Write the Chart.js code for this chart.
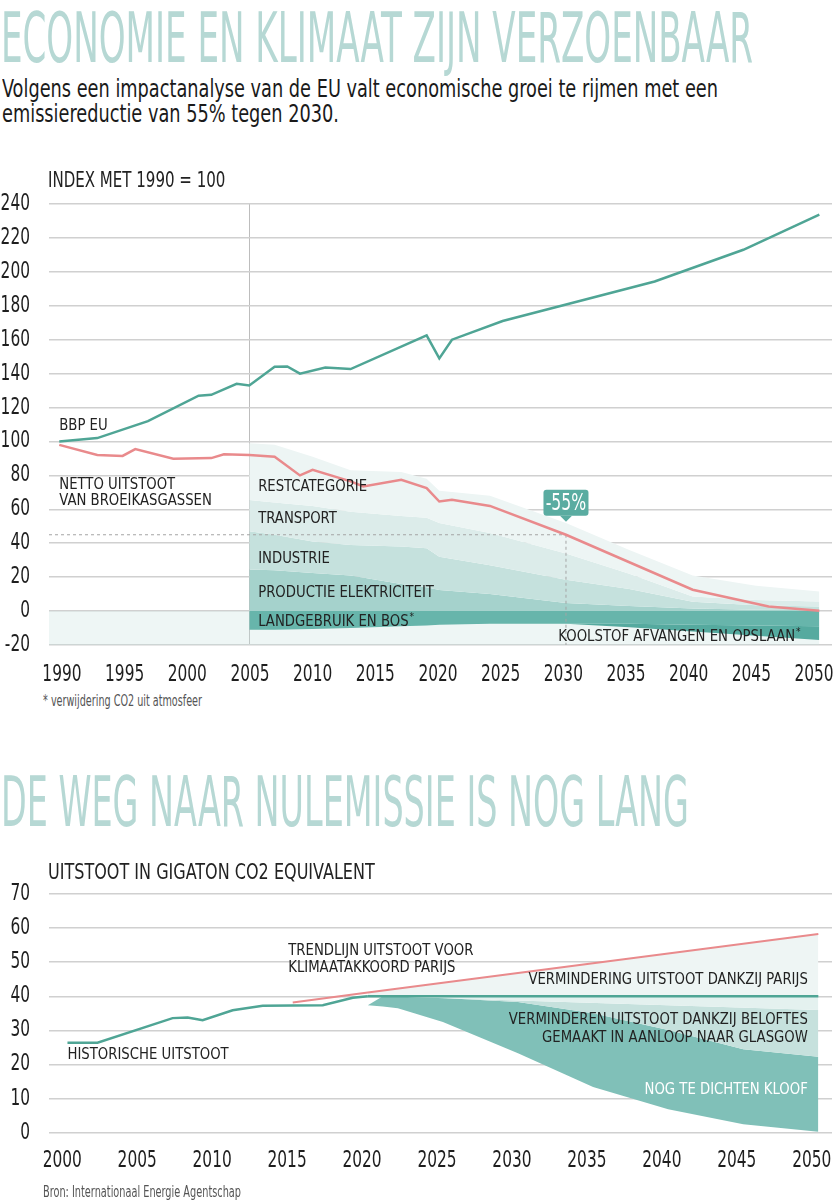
<!DOCTYPE html>
<html><head><meta charset="utf-8">
<script src="https://cdn.jsdelivr.net/npm/chart.js@4.4.1/dist/chart.umd.min.js"></script>
<style>
html,body{margin:0;padding:0;background:#fff;width:834px;height:1200px;overflow:hidden;position:relative}
.t{position:absolute;left:0;white-space:nowrap;transform-origin:0 0;font-family:"Liberation Sans Narrow","DejaVu Sans Condensed",sans-serif;line-height:1}
.title{color:#b6d8d4;font-size:70px}
.sub{color:#1a1a1a;font-size:24px}
.note{color:#555;font-size:15px}
.cv{position:absolute;left:0}
</style></head>
<body>
<div class="t title" id="t1" data-w="752" style="top:3px;left:1px">ECONOMIE EN KLIMAAT ZIJN VERZOENBAAR</div>
<div class="t sub" id="s1" data-w="716" style="top:77px;left:2px">Volgens een impactanalyse van de EU valt economische groei te rijmen met een</div>
<div class="t sub" id="s2" data-ref="s1" style="top:102px;left:2px">emissiereductie van 55% tegen 2030.</div>
<canvas class="cv" id="c1" width="834" height="530" style="top:160px;width:834px;height:530px"></canvas>
<div class="t note" id="n1" data-w="159" style="top:694px;left:43px">* verwijdering CO2 uit atmosfeer</div>
<div class="t title" id="t2" data-w="688" style="top:767px;left:1px">DE WEG NAAR NULEMISSIE IS NOG LANG</div>
<canvas class="cv" id="c2" width="834" height="340" style="top:850px;width:834px;height:340px"></canvas>
<div class="t note" id="n2" data-w="198" style="top:1185px;left:43px">Bron: Internationaal Energie Agentschap</div>
<script>
const FONT = '"Liberation Sans Narrow","DejaVu Sans Condensed",sans-serif';

// ---------- Chart 1 data ----------
const xTicks1 = [1990,1995,2000,2005,2010,2015,2020,2025,2030,2035,2040,2045,2050];
const yTicks1 = [-20,0,20,40,60,80,100,120,140,160,180,200,220,240];
const gdpYears = [1990,1993,1997,2001,2002,2004,2005,2007,2008,2009,2011,2013,2019,2020,2021,2025,2037,2044,2050];
const gdpIndex = [100,102,112,127,127.5,134,133,144,144.2,140,143.6,142.7,162.5,149,160,171,194.3,213,233.7];
const netYears = [1990,1993,1995,1996,1999,2002,2003,2005,2007,2009,2010,2013,2014,2017,2019,2020,2021,2024,2030,2040,2046,2050];
const netIndex = [98,92,91.5,95.5,89.8,90.2,92.5,92,91,80,83.3,76.5,73.5,77.4,72.5,64.6,65.6,62,45,12.6,2.7,0.2];
const stackYears = [2005,2007,2010,2013,2017,2019,2020,2024,2030,2035,2040,2045,2050];
const power     = [24.5,24,22.5,21,16,14,12.5,10,4.7,3,1.5,0.8,0.5];
const industry  = [22.5,21,18.5,18,22,23,19.5,17,13.8,10,4,2.7,2.2];
const transport = [18.5,19,21,19.5,18,18,20,19,15.5,9,3.1,3,3];
const rest      = [33.5,34,29,24.5,26,23,19,22,18,14,12.4,8.5,5.9];
const lulucf    = [-11,-11,-10.5,-10,-9,-8.5,-8,-7.5,-7.5,-7.5,-8,-8.5,-9];
const ccs       = [0,0,0,0,0,0,0,0,0,-2,-4,-6,-8];
const targetYear = 2030, targetValue = 45, targetLabel = '-55%';
const splitYear = 2005;

// ---------- Chart 2 data ----------
const xTicks2 = [2000,2005,2010,2015,2020,2025,2030,2035,2040,2045,2050];
const yTicks2 = [0,10,20,30,40,50,60,70];
const histYears = [2000,2002,2007,2008,2009,2011,2013,2017,2019,2020];
const histValues = [26.4,26.4,33.6,33.8,33,35.9,37.2,37.4,39.6,40];
const policyYears = [2020,2050];
const policyValues = [40,40];
const trendYears = [2015,2020,2050];
const trendValues = [38.2,41.1,58.3];
const announcedYears = [2021,2050];
const announcedValues = [40,36];
const gapYears = [2020,2021,2022,2025,2030,2035,2040,2045,2050];
const pledgeValues = [37.4,40,39.9,39.5,38.3,35,30.1,24.5,22.3];
const netZeroValues = [37.4,37,36.5,32.5,23.3,13.4,6.9,2.5,0.3];

// ---------- helpers ----------
const pts = (xs, ys) => xs.map((x,i)=>({x, y: ys[i]}));
function cumulate(list){
  const out=[]; let acc = list[0].map(()=>0);
  list.forEach(a=>{ acc = acc.map((v,i)=>v+a[i]); out.push(acc.slice()); });
  return out;
}
const [pTop, iTop, tTop, rTop] = cumulate([power, industry, transport, rest]);
const [lBot, cBot] = cumulate([lulucf, ccs]);

const X1_MIN = 1989.19, X1_MAX = 2051.0;
const X2_MIN = 1998.77, X2_MAX = 2050.91;

Chart.defaults.font.family = FONT;
Chart.defaults.color = '#222';

const LABEL_SX = 0.92;
const textPlugin = {
  id: 'texts',
  afterDatasetsDraw(chart, args, opts) {
    const ctx = chart.ctx, xs = chart.scales.x, ys = chart.scales.y, ca = chart.chartArea;
    if (opts.ticks) {
      const tk = opts.ticks;
      ctx.save();
      ctx.font = '23px ' + FONT; ctx.fillStyle = '#1e1e1e'; ctx.textBaseline = 'middle';
      const sx = (2 * tk.digitW) / ctx.measureText('00').width;
      ys.ticks.forEach(t => {
        ctx.save(); ctx.translate(ca.left - tk.yPad, ys.getPixelForValue(t.value)); ctx.scale(sx,1);
        ctx.textAlign = 'right'; ctx.fillText(String(t.value), 0, 0); ctx.restore();
      });
      const n = xs.ticks.length;
      xs.ticks.forEach((t, i) => {
        const shift = tk.s0 + (tk.s1 - tk.s0) * i / (n - 1);
        ctx.save(); ctx.translate(xs.getPixelForValue(t.value) + shift, ca.bottom + tk.xOff); ctx.scale(sx,1);
        ctx.textAlign = 'center'; ctx.fillText(String(t.value), 0, 0); ctx.restore();
      });
      ctx.restore();
    }
    (opts.items||[]).forEach(it => {
      ctx.save();
      ctx.font = (it.size||16) + 'px ' + FONT;
      ctx.fillStyle = it.color || '#222';
      ctx.textAlign = it.align || 'left';
      ctx.textBaseline = 'middle';
      const px = it.ax !== undefined ? ca.left + it.ax : xs.getPixelForValue(it.x);
      const py = it.ay !== undefined ? ca.top + it.ay : ys.getPixelForValue(it.y);
      ctx.translate(px, py); ctx.scale(it.sx||LABEL_SX, 1);
      ctx.fillText(it.text, 0, 0);
      if (it.sup) {
        const w = ctx.measureText(it.text).width;
        ctx.font = '11px ' + FONT; ctx.textAlign='left';
        ctx.fillText('*', w + 1, -4);
      }
      ctx.restore();
    });
    if (opts.callout) {
      const c = opts.callout;
      const x = xs.getPixelForValue(c.x), yv = ys.getPixelForValue(c.y);
      const tip = yv - 13, bh = 26, bw = 45, by = tip - 6 - bh;
      ctx.save();
      ctx.fillStyle = '#5aaca1';
      ctx.beginPath();
      if (ctx.roundRect) ctx.roundRect(x-bw/2, by, bw, bh, 3); else ctx.rect(x-bw/2, by, bw, bh);
      ctx.fill();
      ctx.beginPath(); ctx.moveTo(x-6, by+bh); ctx.lineTo(x+6, by+bh); ctx.lineTo(x, tip); ctx.closePath(); ctx.fill();
      ctx.fillStyle = '#fff'; ctx.font = '23px ' + FONT; ctx.textAlign='center'; ctx.textBaseline='middle';
      ctx.translate(x, by+bh/2+1); ctx.scale(0.76,1); ctx.fillText(c.text, 0, 0);
      ctx.restore();
    }
  }
};

function axes(xmin, xmax, xt, yt, ymin, ymax, xh, vLine) {
  return {
    x: { type:'linear', min:xmin, max:xmax,
      afterBuildTicks: a => { a.ticks = xt.map(v=>({value:v})); },
      ticks: { display:false },
      grid: { drawTicks:false, lineWidth:1, color: c => (vLine!==null && c.tick && c.tick.value===vLine) ? '#bdbdbd' : 'rgba(0,0,0,0)' },
      border: { display:false },
      afterFit: s => { s.height = xh; } },
    y: { type:'linear', min:ymin, max:ymax,
      afterBuildTicks: a => { a.ticks = yt.map(v=>({value:v})); },
      ticks: { display:false },
      grid: { drawTicks:false, lineWidth:1.5, color:'#d0d0d0' },
      border: { display:false },
      afterFit: s => { s.width = 49; } }
  };
}

const line = (data, color, w) => ({ type:'line', data, borderColor:color, borderWidth:w, pointRadius:0, fill:false, order:0, tension:0 });
const area = (data, fill, color, order) => ({ type:'line', data, borderWidth:0, borderColor:'rgba(0,0,0,0)', backgroundColor:color, pointRadius:0, fill, order, tension:0 });

new Chart(document.getElementById('c1'), {
  type:'line',
  data: { datasets: [
    line(pts(gdpYears, gdpIndex), '#4fa595', 2.5),
    line(pts(netYears, netIndex), '#e98a8c', 2.5),
    { type:'line', data: pts([X1_MIN, targetYear],[targetValue,targetValue]), borderColor:'#a5a5a5', borderWidth:1, borderDash:[3,3], pointRadius:0, fill:false, order:1 },
    { type:'line', data: pts([targetYear, targetYear],[targetValue,-20]), borderColor:'#a5a5a5', borderWidth:1, borderDash:[3,3], pointRadius:0, fill:false, order:1 },
    area(pts(stackYears, rTop), 5, '#edf5f4', 10),
    area(pts(stackYears, tTop), 6, '#dcecea', 11),
    area(pts(stackYears, iTop), 7, '#c5e1dd', 12),
    area(pts(stackYears, pTop), 'origin', '#a5d2cc', 13),
    area(pts(stackYears, lBot), 'origin', '#67b5ab', 14),
    area(pts(stackYears, cBot), 8, '#55aa9f', 15),
    area(pts([X1_MIN, 2050],[0,0]), {value:-20}, 'rgba(200,226,222,0.3)', 20)
  ]},
  options: {
    responsive:false, animation:false, events:[],
    layout: { padding: { top:44, right:2, left:0, bottom:0 } },
    plugins: { legend:{display:false}, tooltip:{enabled:false},
      texts: {
        ticks: { digitW: 9.8, yPad: 19, xOff: 30, s0: 2.7, s1: -5.3 },
        items: [
          {text:'INDEX MET 1990 = 100', ax:-1, ay:-23, size:22, sx:0.76},
          {text:'BBP EU', x:1990, y:109.4},
          {text:'NETTO UITSTOOT', x:1990, y:74.5},
          {text:'VAN BROEIKASGASSEN', x:1990, y:65},
          {text:'RESTCATEGORIE', x:2005.7, y:73.5},
          {text:'TRANSPORT', x:2005.7, y:54.2},
          {text:'INDUSTRIE', x:2005.7, y:30.7},
          {text:'PRODUCTIE ELEKTRICITEIT', x:2005.7, y:10.6},
          {text:'LANDGEBRUIK EN BOS', x:2005.7, y:-6.1, sup:true},
          {text:'KOOLSTOF AFVANGEN EN OPSLAAN', x:2029.4, y:-15, sup:true}
        ],
        callout: { x: targetYear, y: targetValue, text: targetLabel }
      }
    },
    scales: axes(X1_MIN, X1_MAX, xTicks1, yTicks1, -20, 240, 45, splitYear)
  },
  plugins:[textPlugin]
});

new Chart(document.getElementById('c2'), {
  type:'line',
  data: { datasets: [
    line(pts(trendYears, trendValues), '#e98a8c', 2),
    line(pts(histYears, histValues), '#4fa595', 2.5),
    line(pts(policyYears, policyValues), '#4fa595', 2.5),
    area(pts(trendYears.filter(y=>y>=2020), trendValues.filter((v,i)=>trendYears[i]>=2020)), 2, '#eef5f4', 10),
    area(pts(announcedYears, announcedValues), 2, '#e4f1ef', 11),
    area(pts(gapYears, pledgeValues), 4, '#c6e1dd', 12),
    area(pts(gapYears, netZeroValues), 5, '#80c0b8', 13)
  ]},
  options: {
    responsive:false, animation:false, events:[],
    layout: { padding: { top:44, right:2, left:0, bottom:0 } },
    plugins: { legend:{display:false}, tooltip:{enabled:false},
      texts: {
        ticks: { digitW: 9.8, yPad: 19, xOff: 28, s0: -5.2, s1: -6.6 },
        items: [
        {text:'UITSTOOT IN GIGATON CO2 EQUIVALENT', ax:-1, ay:-21, size:22, sx:0.81},
        {text:'TRENDLIJN UITSTOOT VOOR', x:2014.7, y:53.4},
        {text:'KLIMAATAKKOORD PARIJS', x:2014.7, y:48.2},
        {text:'HISTORISCHE UITSTOOT', x:2000, y:22.8},
        {text:'VERMINDERING UITSTOOT DANKZIJ PARIJS', x:2049.3, y:44.8, align:'right'},
        {text:'VERMINDEREN UITSTOOT DANKZIJ BELOFTES', x:2049.3, y:33.1, align:'right'},
        {text:'GEMAAKT IN AANLOOP NAAR GLASGOW', x:2049.3, y:27.7, align:'right'},
        {text:'NOG TE DICHTEN KLOOF', x:2049.3, y:12.7, align:'right', color:'#ffffff'}
      ]}
    },
    scales: axes(X2_MIN, X2_MAX, xTicks2, yTicks2, 0, 70, 57.3, null)
  },
  plugins:[textPlugin]
});

const scales = {};
document.querySelectorAll('.t').forEach(el => {
  const w = el.getBoundingClientRect().width;
  let s = 1;
  if (el.dataset.w) s = parseFloat(el.dataset.w) / w;
  else if (el.dataset.ref) s = scales[el.dataset.ref] || 1;
  scales[el.id] = s;
  el.style.transform = 'scaleX(' + s + ')';
});
</script>
</body></html>
